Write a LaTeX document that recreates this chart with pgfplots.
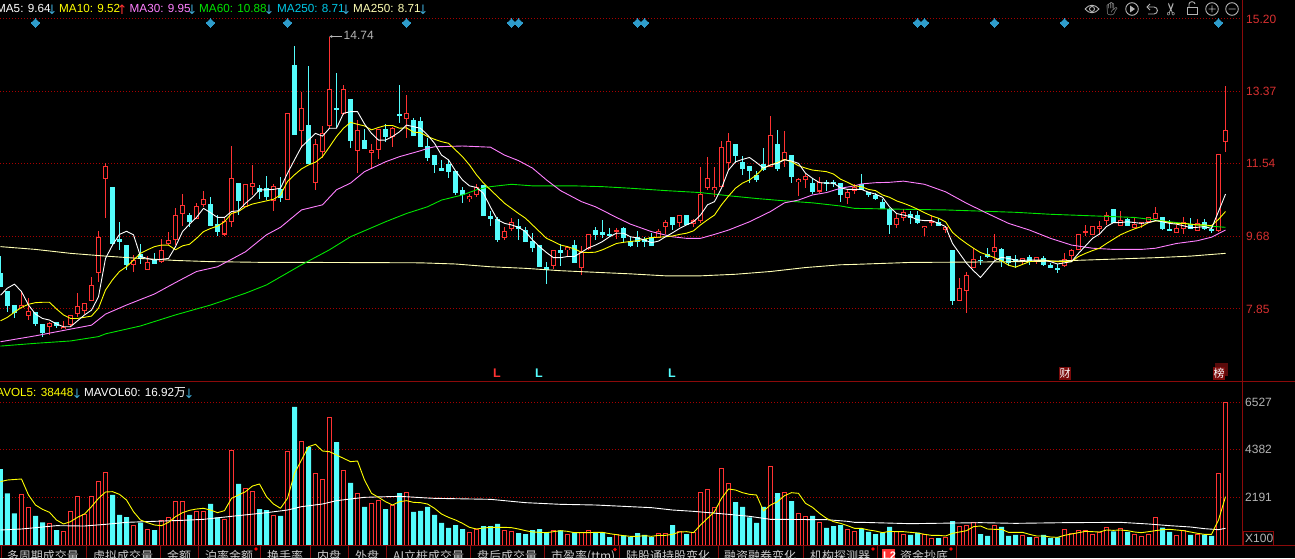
\documentclass[border=0pt]{standalone}
\usepackage{fontspec}
\usepackage{pgfplots}
\usepackage{pgfplotstable}
\usetikzlibrary{arrows.meta}
\pgfplotsset{compat=1.18}
\setmainfont{Liberation Sans}
\newfontfamily\cjk{Noto Sans CJK SC}
\newfontfamily\dv{DejaVu Sans}
\newfontfamily\emo{Noto Emoji}
\definecolor{cred}{HTML}{FF3232}
\definecolor{ccy}{HTML}{54FCFC}
\definecolor{cyel}{HTML}{FFFF00}
\definecolor{cpink}{HTML}{FF80FF}
\definecolor{cgreen}{HTML}{00E600}
\definecolor{ccream}{HTML}{FFFFB4}
\definecolor{cdia}{HTML}{2E9CCB}
\definecolor{cdark}{HTML}{8B0A0A}
\definecolor{cgrid}{HTML}{A80000}
\definecolor{cgrey}{HTML}{B4B4B4}
\definecolor{cticks}{HTML}{D83030}
\definecolor{carrow}{HTML}{3CA6D0}
\definecolor{ctab}{HTML}{CCCCCC}
\definecolor{cturq}{HTML}{00C8E6}
\definecolor{ctagA}{HTML}{5A0A0A}
\definecolor{ctagB}{HTML}{7A0A0A}
\pgfplotstableread{
k u top bot high low vol
0 0 8.74 8.43 9.19 8.43 3477
1 0 8.30 7.93 8.30 7.78 2364
2 0 7.93 7.77 7.95 7.62 1449
3 1 7.94 7.88 8.30 7.87 2318
4 1 7.79 7.69 8.12 7.57 1723
5 0 7.77 7.47 7.77 7.43 1327
6 0 7.45 7.26 7.45 7.15 1037
7 1 7.49 7.41 7.52 7.19 991
8 0 7.51 7.43 7.52 7.38 686
9 1 7.39 7.35 7.55 7.34 625
10 1 7.68 7.45 7.68 7.40 1540
11 1 7.92 7.73 8.25 7.65 2227
12 1 7.99 7.82 7.99 7.72 1403
13 1 8.45 8.06 8.65 8.06 2227
14 1 9.67 8.77 9.83 8.54 2913
15 1 11.47 11.16 11.54 10.15 3325
16 0 10.92 9.52 10.92 9.47 2288
17 0 9.60 9.55 10.05 9.35 1373
18 0 9.45 8.97 9.45 8.84 1281
19 1 9.09 8.97 9.22 8.79 900
20 0 9.24 9.12 9.50 8.99 1022
21 1 9.03 8.85 9.19 8.84 717
22 0 9.07 9.01 9.26 8.99 686
23 1 9.34 9.06 9.62 9.01 1129
24 1 9.59 9.50 9.80 9.47 1266
25 1 10.22 9.61 10.40 9.47 1998
26 1 10.48 10.27 10.76 9.96 1998
27 0 10.22 10.06 10.27 9.94 1373
28 1 10.44 10.14 10.53 10.14 1540
29 1 10.63 10.49 10.84 10.43 1540
30 0 10.51 9.96 10.68 9.96 1876
31 0 9.98 9.81 10.23 9.70 1266
32 1 10.07 9.75 10.15 9.71 1174
33 1 11.16 10.06 11.98 9.94 4331
34 0 11.04 10.61 11.04 10.23 2791
35 1 11.01 10.44 11.01 10.44 2593
36 1 11.04 10.95 11.50 10.74 2455
37 0 10.91 10.82 10.99 10.64 1647
38 0 10.91 10.70 11.22 10.61 1601
39 1 10.95 10.61 11.02 10.34 1357
40 0 10.89 10.68 11.20 10.57 1327
41 1 12.81 10.62 12.81 10.61 4285
42 0 14.03 12.28 14.51 12.28 6314
43 1 12.94 12.37 13.36 11.92 4743
44 0 12.51 11.53 14.01 11.52 4484
45 1 12.03 11.05 12.15 10.87 3279
46 1 12.30 11.84 12.49 11.67 3004
47 1 13.42 12.49 14.74 12.43 5841
48 0 12.94 12.92 13.82 12.44 4712
49 1 13.42 12.81 13.53 12.77 3416
50 0 13.17 12.11 13.17 11.94 2837
51 1 12.38 11.86 12.64 11.29 2364
52 0 12.13 11.93 12.40 11.93 1739
53 1 11.87 11.82 12.03 11.43 1906
54 1 12.40 11.90 12.40 11.65 2044
55 0 12.40 12.23 12.54 12.09 1647
56 1 12.43 12.22 12.46 11.96 1815
57 0 12.79 12.75 13.53 12.57 2379
58 1 12.81 12.67 13.27 12.19 2410
59 0 12.63 12.25 12.68 12.25 1510
60 0 12.61 11.98 12.71 11.98 1556
61 0 11.98 11.69 12.18 11.61 1739
62 0 11.73 11.50 11.73 11.30 1373
63 0 11.42 11.37 11.63 11.35 1007
64 0 11.50 11.33 11.63 11.18 778
65 0 11.33 10.80 11.33 10.74 915
66 0 10.84 10.76 10.93 10.54 732
67 1 10.69 10.66 10.76 10.57 580
68 1 10.93 10.76 11.01 10.70 732
69 0 10.97 10.23 10.97 10.23 869
70 0 10.19 10.14 10.33 9.95 869
71 0 10.13 9.60 10.19 9.56 961
72 1 9.82 9.66 9.92 9.60 671
73 1 10.05 9.89 10.15 9.83 625
74 0 9.95 9.88 10.13 9.60 549
75 0 9.85 9.57 9.94 9.56 503
76 0 9.57 9.40 9.78 9.29 686
77 0 9.45 8.92 9.47 8.92 732
78 0 8.91 8.86 9.03 8.48 564
79 1 9.34 8.95 9.34 8.86 671
80 0 9.32 9.28 9.49 8.94 671
81 1 9.40 9.35 9.43 9.19 488
82 0 9.45 9.04 9.60 9.04 564
83 1 9.28 8.90 9.45 8.71 564
84 1 9.74 9.39 9.74 9.35 671
85 0 9.83 9.75 9.94 9.60 564
86 0 9.78 9.75 10.11 9.66 564
87 0 9.75 9.70 9.89 9.68 366
88 1 9.84 9.82 9.89 9.62 458
89 0 9.90 9.66 9.94 9.53 442
90 0 9.56 9.45 9.68 9.43 366
91 0 9.67 9.57 9.83 9.43 549
92 0 9.61 9.57 9.68 9.43 458
93 0 9.66 9.47 9.78 9.45 366
94 1 9.81 9.66 9.87 9.64 534
95 1 10.05 9.94 10.11 9.75 534
96 0 10.16 10.00 10.19 9.85 915
97 1 10.21 10.04 10.23 9.92 610
98 0 10.21 10.00 10.23 10.00 503
99 1 10.08 10.02 10.12 9.94 564
100 1 10.76 10.09 11.44 10.04 2410
101 1 11.16 10.92 11.71 10.87 2547
102 1 10.92 10.87 11.46 10.68 1723
103 1 11.95 10.95 12.11 10.95 3508
104 1 12.10 11.56 12.32 11.37 2821
105 0 12.03 11.73 12.03 11.56 1967
106 0 11.57 11.42 11.73 11.25 1739
107 0 11.45 11.35 11.45 11.05 1266
108 0 11.22 11.12 11.35 11.08 1007
109 0 11.52 11.39 11.92 11.35 1739
110 1 12.25 11.46 12.74 11.46 3599
111 0 12.01 11.41 12.39 11.35 2379
112 1 11.82 11.63 12.36 11.46 2410
113 0 11.73 11.22 11.73 11.05 2013
114 1 11.12 11.09 11.17 10.71 1449
115 1 11.21 11.14 11.27 10.92 1312
116 0 11.04 10.84 11.16 10.76 1327
117 1 11.06 10.84 11.19 10.80 1037
118 0 11.05 11.02 11.12 10.84 778
119 0 11.06 11.03 11.12 10.93 869
120 0 11.04 10.74 11.04 10.57 915
121 1 10.81 10.68 10.87 10.51 717
122 1 10.92 10.85 11.01 10.76 625
123 0 11.01 10.87 11.27 10.87 732
124 0 10.81 10.74 10.82 10.70 595
125 0 10.72 10.64 10.78 10.61 503
126 0 10.56 10.40 10.63 10.38 564
127 0 10.37 9.99 10.40 9.75 824
128 1 10.15 9.99 10.27 9.91 595
129 1 10.29 10.17 10.38 10.09 488
130 0 10.25 10.16 10.33 10.00 458
131 0 10.22 10.03 10.33 10.00 564
132 1 9.94 9.91 9.94 9.71 503
133 1 10.07 10.05 10.21 9.96 305
134 0 10.05 9.96 10.15 9.95 320
135 1 9.92 9.87 9.96 9.77 366
136 0 9.32 8.06 9.32 7.95 1098
137 1 8.37 8.06 8.63 8.06 854
138 1 8.69 8.31 8.78 7.74 900
139 1 9.11 8.90 9.39 8.90 1007
140 0 9.09 9.07 9.20 8.96 503
141 0 9.24 9.18 9.39 9.15 412
142 1 9.41 9.30 9.75 9.09 900
143 0 9.35 9.07 9.40 8.92 824
144 0 9.17 9.03 9.19 8.94 412
145 0 9.10 9.08 9.22 8.90 458
146 1 9.12 9.09 9.15 8.98 412
147 0 9.16 9.07 9.22 8.96 366
148 1 9.16 9.07 9.18 8.99 366
149 0 9.13 8.99 9.19 8.94 458
150 0 8.96 8.90 9.02 8.88 320
151 0 8.88 8.86 8.98 8.77 351
152 1 9.10 8.95 9.26 8.92 717
153 1 9.32 9.20 9.37 9.09 534
154 1 9.74 9.36 9.74 9.36 671
155 1 9.82 9.80 9.98 9.71 671
156 1 9.93 9.73 9.93 9.73 503
157 1 9.95 9.89 10.07 9.73 580
158 1 10.23 10.09 10.31 9.98 808
159 0 10.36 10.05 10.36 10.05 625
160 1 10.09 9.97 10.33 9.97 763
161 0 10.11 9.96 10.15 9.96 595
162 1 10.00 9.91 10.16 9.89 503
163 1 10.04 10.01 10.06 9.89 397
164 1 10.16 10.06 10.19 10.02 458
165 1 10.27 10.15 10.43 10.15 1281
166 0 10.18 9.88 10.19 9.85 793
167 0 9.87 9.84 10.11 9.83 595
168 1 9.89 9.80 9.98 9.80 442
169 1 10.03 9.89 10.18 9.75 686
170 0 10.00 9.89 10.16 9.88 458
171 1 10.01 9.85 10.12 9.83 503
172 0 10.04 9.88 10.12 9.86 473
173 0 9.87 9.83 9.95 9.78 412
174 1 11.77 9.83 11.77 9.80 3279
175 1 12.38 12.09 13.50 11.84 6527
}\data
\pgfplotsset{
  errbar/.style n args={2}{draw=none, mark=none, forget plot,
    error bars/.cd, y dir=both, y explicit, error mark=none,
    error bar style={draw=#1, line width=#2, solid, line cap=butt}},
  panel/.style={scale only axis, width=1242pt, xmin=-0.0714, xmax=177.3571,
    axis x line=none, axis y line=right, axis line style={draw=none},
    major tick length=0pt, ymajorgrids,
    major grid style={draw=cgrid, line width=1pt, dash pattern=on 1pt off 2pt},
    clip=true, scaled y ticks=false},
  ma/.style={draw=#1, line width=0.9pt, mark=none, line join=round, forget plot},
}
\newcommand{\upx}{\thisrow{u}>0 ? \thisrow{k} : nan}
\newcommand{\dnx}{\thisrow{u}>0 ? nan : \thisrow{k}}
\begin{document}
\begin{tikzpicture}
\useasboundingbox (0,0) rectangle (1295pt,558pt);
\clip (0,0) rectangle (1295pt,558pt);
\fill[black] (0,0) rectangle (1295pt,558pt);

% price panel
\begin{axis}[panel, at={(0pt,177pt)}, anchor=south west, height=381pt,
  ymin=6.025, ymax=15.68,
  ytick={15.20,13.37,11.54,9.68,7.85},
  yticklabels={15.20,13.37,11.54,9.68,7.85},
  yticklabel style={font=\fontsize{12}{12}\selectfont, text=cticks, anchor=west, inner sep=0pt, xshift=4pt}]
% wicks
\addplot[skip coords between index={0}{3}, errbar={cred}{1pt}] table[x expr={\upx}, y expr={(\thisrow{high}+\thisrow{low})/2}, y error expr={(\thisrow{high}-\thisrow{low})/2}] {\data};
\addplot[skip coords between index={174}{176}, errbar={ccy}{1pt}] table[x expr={\dnx}, y expr={(\thisrow{high}+\thisrow{low})/2}, y error expr={(\thisrow{high}-\thisrow{low})/2}] {\data};
% bodies
\addplot[skip coords between index={174}{176}, errbar={ccy}{5pt}] table[x expr={\dnx}, y expr={(\thisrow{top}+\thisrow{bot})/2}, y error expr={(\thisrow{top}-\thisrow{bot})/2+0.013}] {\data};
\addplot[skip coords between index={0}{3}, errbar={cred}{5pt}] table[x expr={\upx}, y expr={(\thisrow{top}+\thisrow{bot})/2}, y error expr={(\thisrow{top}-\thisrow{bot})/2+0.013}] {\data};
\addplot[skip coords between index={0}{3}, errbar={black}{3pt}] table[x expr={\upx}, y expr={(\thisrow{top}+\thisrow{bot})/2}, y error expr={max((\thisrow{top}-\thisrow{bot})/2-0.013,0)}] {\data};
% MA250
\addplot[ma=ccream] coordinates {(0,9.43)(5,9.36)(10,9.26)(15,9.19)(20,9.13)(25,9.08)(30,9.05)(38,9.03)(45,9.03)(60,9.02)(65,8.99)(70,8.92)(75,8.88)(80,8.82)(85,8.78)(90,8.74)(95,8.69)(100,8.69)(105,8.73)(110,8.80)(115,8.90)(120,8.97)(122,8.98)(130,9.03)(140,9.04)(150,9.06)(160,9.12)(165,9.15)(170,9.19)(175,9.26)};
% MA60
\addplot[ma=cgreen] coordinates {(0,6.91)(5,6.98)(10,7.04)(14,7.15)(15,7.22)(20,7.42)(25,7.70)(30,7.95)(35,8.25)(38,8.46)(43,8.97)(47,9.35)(50,9.68)(55,10.06)(58,10.27)(61,10.44)(63,10.61)(66,10.74)(68,10.87)(70,10.95)(73,11.01)(76,10.97)(82,10.97)(86,10.95)(90,10.91)(95,10.85)(100,10.80)(104,10.72)(108,10.65)(112,10.59)(116,10.54)(120,10.46)(122,10.40)(128,10.38)(135,10.36)(140,10.33)(145,10.30)(150,10.25)(156,10.21)(162,10.17)(168,10.04)(172,9.96)(175,9.92)};
% MA30
\addplot[ma=cpink] coordinates {(0,7.02)(5,7.17)(10,7.34)(13,7.44)(15,7.72)(18,7.95)(22,8.23)(25,8.52)(28,8.80)(31,8.92)(35,9.30)(38,9.73)(40,9.92)(43,10.36)(46,10.49)(48,10.87)(50,11.04)(52,11.33)(55,11.58)(57,11.71)(60,11.86)(61,11.92)(62,11.96)(66,11.98)(70,11.95)(72,11.75)(74,11.61)(76,11.42)(78,11.12)(80,10.85)(83,10.57)(85,10.44)(88,10.17)(90,10.00)(93,9.81)(96,9.68)(98,9.64)(100,9.64)(102,9.74)(104,9.85)(107,10.06)(110,10.32)(112,10.54)(114,10.61)(116,10.74)(118,10.80)(120,10.91)(122,10.97)(123,11.02)(125,11.05)(127,11.06)(129,11.09)(132,11.01)(135,10.82)(138,10.53)(141,10.27)(144,10.02)(147,9.85)(150,9.64)(153,9.47)(156,9.39)(159,9.36)(163,9.36)(165,9.39)(168,9.51)(171,9.58)(173,9.67)(175,9.85)};
% MA10
\addplot[ma=cyel] coordinates {(0,7.55)(1,7.64)(2,7.77)(3,7.89)(4,7.97)(5,8.01)(6,8.02)(7,8.02)(8,7.85)(9,7.70)(10,7.61)(11,7.61)(12,7.64)(13,7.67)(14,7.87)(15,8.33)(16,8.59)(17,8.80)(18,8.92)(19,9.09)(20,9.26)(21,9.35)(22,9.43)(23,9.47)(24,9.47)(25,9.35)(26,9.45)(27,9.49)(28,9.64)(29,9.81)(30,9.89)(31,9.95)(32,10.06)(33,10.27)(34,10.32)(35,10.44)(36,10.51)(37,10.55)(38,10.59)(39,10.63)(40,10.74)(41,11.08)(42,11.25)(43,11.40)(44,11.50)(45,11.57)(46,11.71)(47,11.96)(48,12.22)(49,12.43)(50,12.58)(51,12.53)(52,12.49)(53,12.39)(54,12.45)(55,12.50)(56,12.50)(57,12.43)(58,12.44)(59,12.33)(60,12.32)(61,12.22)(62,12.15)(63,12.09)(64,12.05)(65,11.88)(66,11.71)(67,11.50)(68,11.25)(69,11.04)(70,10.87)(71,10.70)(72,10.53)(73,10.40)(74,10.27)(75,10.15)(76,9.98)(77,9.81)(78,9.64)(79,9.56)(80,9.47)(81,9.43)(82,9.37)(83,9.29)(84,9.28)(85,9.29)(86,9.35)(87,9.43)(88,9.51)(89,9.54)(90,9.56)(91,9.58)(92,9.62)(93,9.66)(94,9.67)(95,9.68)(96,9.70)(97,9.74)(98,9.77)(99,9.83)(100,9.98)(101,10.11)(102,10.23)(103,10.49)(104,10.71)(105,10.91)(106,11.04)(107,11.12)(108,11.25)(109,11.42)(110,11.50)(111,11.56)(112,11.64)(113,11.58)(114,11.48)(115,11.42)(116,11.37)(117,11.35)(118,11.33)(119,11.27)(120,11.14)(121,11.06)(122,10.97)(123,10.95)(124,10.88)(125,10.85)(126,10.74)(127,10.68)(128,10.59)(129,10.53)(130,10.46)(131,10.38)(132,10.29)(133,10.21)(134,10.15)(135,10.06)(136,9.79)(137,9.64)(138,9.51)(139,9.39)(140,9.28)(141,9.22)(142,9.15)(143,9.07)(144,8.96)(145,8.91)(146,8.98)(147,9.05)(148,9.07)(149,9.09)(150,9.07)(151,9.05)(152,9.05)(153,9.05)(154,9.18)(155,9.26)(156,9.33)(157,9.39)(158,9.51)(159,9.62)(160,9.73)(161,9.81)(162,9.88)(163,9.94)(164,10.04)(165,10.08)(166,10.08)(167,10.04)(168,10.02)(169,10.02)(170,10.00)(171,9.98)(172,9.98)(173,9.96)(174,10.12)(175,10.32)};
% MA5
\addplot[ma=white] coordinates {(0,8.20)(1,8.38)(2,8.48)(3,8.29)(4,7.95)(5,7.72)(6,7.61)(7,7.57)(8,7.47)(9,7.40)(10,7.40)(11,7.55)(12,7.70)(13,7.82)(14,8.16)(15,9.13)(16,9.47)(17,9.74)(18,9.82)(19,9.73)(20,9.18)(21,9.13)(22,9.09)(23,9.11)(24,9.13)(25,9.43)(26,9.81)(27,10.00)(28,10.17)(29,10.40)(30,10.29)(31,10.17)(32,10.17)(33,10.32)(34,10.34)(35,10.53)(36,10.68)(37,10.87)(38,10.87)(39,10.88)(40,10.91)(41,11.29)(42,11.63)(43,11.96)(44,12.13)(45,12.30)(46,12.23)(47,12.43)(48,12.43)(49,12.81)(50,12.85)(51,12.85)(52,12.54)(53,12.30)(54,12.13)(55,12.13)(56,12.22)(57,12.34)(58,12.51)(59,12.47)(60,12.43)(61,12.26)(62,12.05)(63,11.75)(64,11.63)(65,11.35)(66,11.12)(67,10.97)(68,10.93)(69,10.78)(70,10.43)(71,10.11)(72,10.02)(73,9.98)(74,9.92)(75,9.81)(76,9.60)(77,9.43)(78,9.28)(79,9.15)(80,9.15)(81,9.18)(82,9.18)(83,9.29)(84,9.40)(85,9.47)(86,9.56)(87,9.68)(88,9.77)(89,9.77)(90,9.68)(91,9.65)(92,9.60)(93,9.53)(94,9.57)(95,9.68)(96,9.78)(97,9.89)(98,9.98)(99,10.06)(100,10.23)(101,10.49)(102,10.57)(103,10.91)(104,11.37)(105,11.58)(106,11.64)(107,11.69)(108,11.56)(109,11.42)(110,11.50)(111,11.54)(112,11.63)(113,11.60)(114,11.54)(115,11.29)(116,11.16)(117,11.05)(118,11.04)(119,11.04)(120,10.92)(121,10.88)(122,10.88)(123,10.88)(124,10.81)(125,10.76)(126,10.68)(127,10.44)(128,10.27)(129,10.23)(130,10.19)(131,10.11)(132,10.09)(133,10.09)(134,10.02)(135,9.94)(136,9.51)(137,9.26)(138,9.01)(139,8.82)(140,8.65)(141,8.86)(142,9.07)(143,9.16)(144,9.13)(145,9.09)(146,9.08)(147,9.09)(148,9.09)(149,9.09)(150,9.05)(151,8.99)(152,9.02)(153,9.05)(154,9.26)(155,9.45)(156,9.64)(157,9.75)(158,9.94)(159,10.04)(160,10.04)(161,10.06)(162,10.04)(163,10.02)(164,10.04)(165,10.09)(166,10.06)(167,10.02)(168,10.00)(169,9.96)(170,9.91)(171,9.92)(172,9.94)(173,9.89)(174,10.32)(175,10.76)};
% event markers
\addplot[only marks, mark=square*, mark size=3pt, mark options={rotate=45, fill=cdia, draw=cdia, line width=0pt}, forget plot] coordinates {(5,15.10)(30,15.10)(41,15.10)(58,15.10)(73,15.10)(74,15.10)(91,15.10)(92,15.10)(131,15.10)(132,15.10)(142,15.10)(152,15.10)(174,15.10)};
\end{axis}

% volume panel
\begin{axis}[panel, at={(0pt,13pt)}, anchor=south west, height=164pt,
  ymin=0, ymax=7503,
  ytick={2191,4382,6527},
  yticklabels={2191,4382,6527},
  yticklabel style={font=\fontsize{12}{12}\selectfont, text=cgrey, anchor=west, inner sep=0pt, xshift=3pt}]
\addplot[ybar, bar width=5pt, bar shift=0pt, fill=ccy, draw=none, forget plot, skip coords between index={174}{176}] table[x expr={\dnx}, y=vol] {\data};
\addplot[ybar, bar width=4pt, bar shift=0pt, fill=black, draw=cred, line width=1pt, forget plot, skip coords between index={0}{3}] table[x expr={\upx}, y=vol] {\data};
\addplot[ma=white] coordinates {(0,686)(3,732)(5,793)(8,885)(12,869)(15,946)(18,1037)(22,1083)(26,1129)(29,1174)(33,1312)(38,1479)(41,1601)(43,1754)(46,1876)(48,2028)(52,2181)(57,2227)(61,2150)(62,2135)(70,2089)(75,1937)(80,1861)(85,1830)(88,1784)(93,1708)(96,1601)(99,1540)(104,1403)(107,1312)(110,1174)(118,1159)(121,1083)(122,1037)(123,1037)(130,976)(140,1022)(145,991)(152,1022)(160,1037)(164,961)(167,885)(170,824)(172,747)(174,702)(175,763)};
\addplot[ma=cyel] coordinates {(0,2898)(1,2974)(3,3020)(4,2288)(5,1830)(6,1632)(7,1495)(8,1144)(9,961)(10,1068)(11,1266)(12,1418)(13,1754)(14,2135)(15,2425)(16,2440)(17,2318)(18,2059)(19,1525)(20,1144)(21,1022)(22,915)(23,885)(24,1037)(25,1296)(26,1479)(27,1586)(28,1647)(29,1678)(30,1601)(31,1479)(32,1571)(33,2135)(34,2288)(35,2440)(36,2699)(37,2791)(38,2211)(39,1876)(40,1678)(41,2135)(42,3279)(43,3889)(44,4499)(45,4606)(46,4300)(47,4270)(48,4118)(49,3965)(50,3813)(51,3843)(52,2974)(53,2364)(54,2181)(55,1983)(56,1830)(57,1983)(58,2028)(59,1952)(60,1937)(61,1876)(62,1678)(63,1418)(64,1266)(65,1144)(66,991)(67,808)(68,732)(69,778)(70,808)(71,808)(72,808)(73,793)(74,732)(75,656)(76,595)(77,580)(78,564)(79,610)(80,656)(81,625)(82,564)(83,564)(84,564)(85,580)(86,580)(87,519)(88,473)(89,427)(90,397)(91,397)(92,427)(93,397)(94,442)(95,442)(96,488)(97,595)(98,610)(99,564)(100,915)(101,1220)(102,1525)(103,2135)(104,2562)(105,2516)(106,2394)(107,2318)(108,2288)(109,1556)(110,1830)(111,1983)(112,2257)(113,2394)(114,2364)(115,1906)(116,1723)(117,1449)(118,1220)(119,1068)(120,991)(121,885)(122,763)(123,763)(124,686)(125,641)(126,564)(127,625)(128,610)(129,610)(130,580)(131,549)(132,488)(133,442)(134,442)(135,412)(136,534)(137,595)(138,656)(139,839)(140,869)(141,732)(142,717)(143,717)(144,580)(145,580)(146,580)(147,488)(148,412)(149,412)(150,366)(151,351)(152,442)(153,503)(154,564)(155,625)(156,610)(157,595)(158,686)(159,671)(160,686)(161,656)(162,595)(163,564)(164,610)(165,656)(166,702)(167,717)(168,686)(169,656)(170,595)(171,534)(172,488)(173,488)(174,1144)(175,2211)};
\end{axis}

% frame, texts and decoration, in image pixels
\begin{scope}[x=1pt,y=-1pt,yshift=558pt]
\draw[cdark, line width=1pt] (0,381.5)--(1295,381.5) (0,545.5)--(1295,545.5) (1242.5,0)--(1242.5,545.5);
\foreach \x in {1,86,160,198,260,310,348,386,470,544,619,718,803,877,956}
  \draw[cdark, line width=1pt] (\x+0.5,545.5)--(\x+0.5,558);
\draw[cdark, line width=1pt] (1243,531)rectangle(1273,545);
\node[anchor=base west, inner sep=0pt, text=cgrey, font=\fontsize{12}{12}\selectfont] at (1245,542.5) {X100};

\tikzset{leg/.style={anchor=base west, inner sep=0pt, font=\fontsize{11.7}{12}\selectfont},
  arr/.style={anchor=base, inner sep=0pt, font=\dv\fontsize{13}{13}\selectfont}}
\node[leg, text=white] at (-4,13) {MA5: 9.64};
\node[arr, text=carrow] at (52,15) {↓};
\node[leg, text=cyel] at (59,13) {MA10: 9.52};
\node[arr, text=cred] at (122,15) {↑};
\node[leg, text=cpink] at (129.5,13) {MA30: 9.95};
\node[arr, text=carrow] at (192,15) {↓};
\node[leg, text=cgreen] at (199,13) {MA60: 10.88};
\node[arr, text=carrow] at (269,15) {↓};
\node[leg, text=cturq] at (277,13) {MA250: 8.71};
\node[arr, text=carrow] at (346,15) {↓};
\node[leg, text=ccream] at (353,13) {MA250: 8.71};
\node[arr, text=carrow] at (423,15) {↓};

\node[leg, text=cyel, anchor=base east] at (73.5,396) {MAVOL5: 38448};
\node[arr, text=carrow] at (77,398) {↓};
\node[leg, text=white] at (84,396) {MAVOL60: 16.92{\cjk 万}};
\node[arr, text=carrow] at (189,398) {↓};

% high label
\draw[cgrey, line width=0.8pt, -{Latex[length=3pt,width=3pt]}] (342,36.5)--(329,36.5);
\node[anchor=base west, inner sep=0pt, text=cgrey, font=\fontsize{12}{12}\selectfont] at (343.5,39.5) {14.74};

% signals
\tikzset{sig/.style={anchor=base, inner sep=0pt, font=\bfseries\fontsize{12.5}{12}\selectfont}}
\node[sig, text=cred] at (497,377.5) {L};
\node[sig, text=ccy] at (539,377.5) {L};
\node[sig, text=ccy] at (672,377.5) {L};
\fill[ctagA] (1215,363) rectangle (1228,376);
\fill[ctagB] (1213,367) rectangle (1225,380);
\fill[ctagB] (1059,367) rectangle (1071,380);
\node[anchor=center, inner sep=0pt, text=white, font=\cjk\fontsize{11}{11}\selectfont] at (1065,373.5) {财};
\node[anchor=center, inner sep=0pt, text=white, font=\cjk\fontsize{11}{11}\selectfont] at (1219,373.5) {榜};

% tabs
\tikzset{tab/.style={anchor=base west, inner sep=0pt, text=ctab, font=\cjk\fontsize{12}{12}\selectfont}}
\node[tab] at (6.7,560.5) {多周期成交量};
\node[tab] at (93,560.5) {虚拟成交量};
\node[tab] at (167,560.5) {金额};
\node[tab] at (205,560.5) {泊率金额};
\node[tab] at (267,560.5) {换手率};
\node[tab] at (317,560.5) {内盘};
\node[tab] at (355,560.5) {外盘};
\node[tab] at (393,560.5) {AI立桩成交量};
\node[tab] at (477,560.5) {盘后成交量};
\node[tab] at (551,560.5) {市盈率(ttm)};
\node[tab] at (626,560.5) {陆股通持股变化};
\node[tab] at (724,560.5) {融资融券变化};
\node[tab] at (810,560.5) {机构探测器};
\fill[cred] (882,549) rectangle (895,558);
\node[anchor=base west, inner sep=0pt, text=white, font=\bfseries\fontsize{11}{11}\selectfont] at (883,559.5) {L2};
\node[tab] at (900,560.5) {资金抄底};
\fill[red] (256,549) circle (1.8pt);
\fill[red] (615,549.5) circle (1.8pt);
\fill[red] (873,549) circle (1.8pt);
\fill[red] (951,549) circle (1.8pt);

% toolbar
\tikzset{ico/.style={draw=cgrey, line width=0.9pt}}
\draw[ico] (1085,9) .. controls (1089,4) and (1095,4) .. (1099,9) .. controls (1095,14) and (1089,14) .. (1085,9);
\draw[ico] (1092,9) circle (2.5);
\node[anchor=center, inner sep=0pt, text=cgrey, font=\emo\fontsize{13}{13}\selectfont] at (1112,9) {✋};
\draw[ico] (1132,9) circle (6.3);
\fill[cgrey] (1130,5.5)--(1135,9)--(1130,12.5)--cycle;
\draw[ico] (1147,7) -- (1154,7) .. controls (1158.5,7) and (1158.5,14) .. (1154,14) -- (1148,14);
\draw[ico] (1150,4) -- (1147,7) -- (1150,10);
\node[anchor=center, inner sep=0pt, text=cgrey, font=\dv\fontsize{17}{17}\selectfont, rotate=90] at (1172,9) {✂};
\draw[ico] (1187,7) rectangle (1197,14.5);
\draw[ico] (1189,7) -- (1189,4) .. controls (1189,1) and (1195,1) .. (1195,4);
\draw[ico] (1212,9) circle (6.3) (1208.5,9)--(1215.5,9) (1212,5.5)--(1212,12.5);
\draw[ico] (1232,9) circle (6.3) (1228.5,9)--(1235.5,9);
\end{scope}
\end{tikzpicture}
\end{document}
